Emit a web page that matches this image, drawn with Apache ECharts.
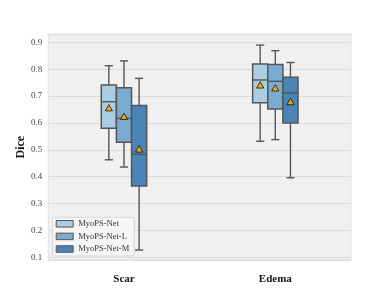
<!DOCTYPE html>
<html><head><meta charset="utf-8">
<script src="https://cdn.jsdelivr.net/npm/echarts@6/dist/echarts.min.js"></script>
<style>html,body{margin:0;padding:0;background:#fff}#c{width:390px;height:293px}</style>
</head><body><div id="c"></div>
<script>
const categories = ['Scar', 'Edema'];
const models = ['MyoPS-Net', 'MyoPS-Net-L', 'MyoPS-Net-M'];
// per category: [lower whisker, Q1, median, Q3, upper whisker]
const netBox  = [[0.463, 0.580, 0.679, 0.741, 0.813], [0.532, 0.675, 0.760, 0.819, 0.890]];
const netLBox = [[0.436, 0.528, 0.617, 0.731, 0.831], [0.538, 0.652, 0.755, 0.818, 0.869]];
const netMBox = [[0.127, 0.365, 0.483, 0.665, 0.766], [0.396, 0.600, 0.712, 0.770, 0.825]];
const netMean  = [0.655, 0.740];
const netLMean = [0.623, 0.729];
const netMMean = [0.502, 0.678];
const yTicks = [0.1, 0.2, 0.3, 0.4, 0.5, 0.6, 0.7, 0.8, 0.9];

const colors = ['#abcde3', '#78abcf', '#4985b6'];
const boxes = [netBox, netLBox, netMBox];
const means = [netMean, netLMean, netMMean];
const SERIF = '"Liberation Serif", "DejaVu Serif", serif';
const EDGE = '#555555';

function renderItem(params, api) {
  const s = params.seriesIndex;
  const ci = api.value(0);
  const band = api.size([1, 0])[0];
  const bw = band * 0.1;
  const xc = api.coord([ci, 0])[0] + (s - 1) * bw;
  const y = k => api.coord([ci, api.value(k)])[1];
  const yLo = y(1), yQ1 = y(2), yMed = y(3), yQ3 = y(4), yHi = y(5), yMean = y(6);
  const cap = bw * 0.27;
  const ls = { stroke: EDGE, lineWidth: 1.4 };
  const t = 3.6;
  return {
    type: 'group',
    children: [
      { type: 'line', shape: { x1: xc, y1: yHi, x2: xc, y2: yQ3 }, style: ls },
      { type: 'line', shape: { x1: xc, y1: yQ1, x2: xc, y2: yLo }, style: ls },
      { type: 'line', shape: { x1: xc - cap, y1: yHi, x2: xc + cap, y2: yHi }, style: ls },
      { type: 'line', shape: { x1: xc - cap, y1: yLo, x2: xc + cap, y2: yLo }, style: ls },
      { type: 'rect', shape: { x: xc - bw / 2, y: yQ3, width: bw, height: yQ1 - yQ3 },
        style: { fill: colors[s], stroke: EDGE, lineWidth: 1.5 } },
      { type: 'line', shape: { x1: xc - bw / 2, y1: yMed, x2: xc + bw / 2, y2: yMed }, style: ls },
      { type: 'polygon', shape: { points: [[xc, yMean - t], [xc - t, yMean + t * 0.75], [xc + t, yMean + t * 0.75]] },
        style: { fill: '#ffa500', stroke: '#111', lineWidth: 0.8 } }
    ]
  };
}

const series = models.map((name, s) => ({
  name: name,
  type: 'custom',
  renderItem: renderItem,
  itemStyle: { color: colors[s], borderColor: EDGE, borderWidth: 1 },
  encode: { x: 0, y: [1, 2, 3, 4, 5, 6] },
  data: categories.map((c, i) => [i].concat(boxes[s][i], [means[s][i]])),
  z: 3
}));

const chart = echarts.init(document.getElementById('c'), null, { renderer: 'canvas' });
chart.setOption({
  animation: false,
  backgroundColor: '#ffffff',
  grid: {
    left: 48.3, right: 39, top: 34.3, bottom: 33,
    show: true, backgroundColor: '#f0f0f0', borderColor: '#e2e2e2', borderWidth: 1
  },
  legend: {
    data: models,
    orient: 'vertical',
    left: 52.7, top: 217.3,
    icon: 'rect',
    itemWidth: 17, itemHeight: 6.5, itemGap: 3.6, itemTextGap: 5,
    padding: [2, 5, 2.5, 3],
    backgroundColor: 'rgba(246,246,246,0.9)',
    borderColor: '#d6d6d6', borderWidth: 1, borderRadius: 2,
    itemStyle: { borderColor: EDGE, borderWidth: 1 },
    textStyle: { fontFamily: SERIF, fontSize: 8.5, color: '#333' }
  },
  xAxis: {
    type: 'category',
    data: categories,
    boundaryGap: true,
    axisLine: { show: false },
    axisTick: { show: false },
    splitLine: { show: false },
    axisLabel: { fontFamily: SERIF, fontWeight: 'bold', fontSize: 11, color: '#111', margin: 14 }
  },
  yAxis: {
    type: 'value',
    min: 0.09, max: 0.93,
    splitNumber: 8,
    name: 'Dice',
    nameLocation: 'middle',
    nameGap: 21,
    nameMoveOverlap: false,
    nameTextStyle: { fontFamily: SERIF, fontWeight: 'bold', fontSize: 12, color: '#111' },
    axisLine: { show: false },
    axisTick: { show: false },
    splitLine: { show: true, lineStyle: { color: '#dcdcdc', width: 1.2 } },
    axisLabel: {
      fontFamily: SERIF, fontSize: 9, color: '#444', margin: 6,
      formatter: v => {
        const hit = yTicks.find(t => Math.abs(t - v) < 1e-6);
        return hit === undefined ? '' : hit.toFixed(1);
      }
    }
  },
  series: series
});
</script>
</body></html>
